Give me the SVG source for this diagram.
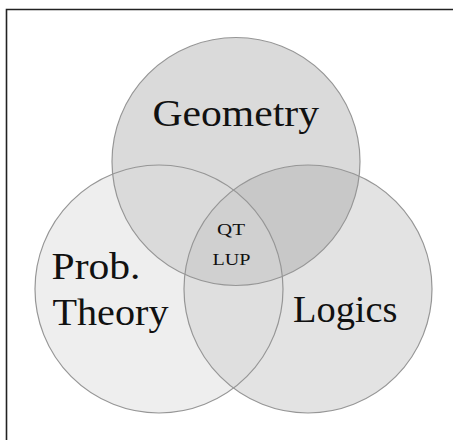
<svg xmlns="http://www.w3.org/2000/svg" width="453" height="440" viewBox="0 0 453 440">
<style>
.lbl{font-family:"Liberation Serif","Times New Roman",serif;fill:#111;}
.big{font-size:37px;}
.small{font-size:17px;}
.outline{fill:none;stroke:#969696;stroke-width:1.2;}
</style>
<rect x="0" y="0" width="453" height="440" fill="#fff"/>
<path d="M6.5,440 V9.5 H453" fill="none" stroke="#222" stroke-width="1.6"/>
<g id="geometry">
<circle cx="236" cy="161.5" r="124" fill="#000" fill-opacity="0.145"/>
<text class="lbl big" x="152.5" y="125.5" textLength="166.5" lengthAdjust="spacingAndGlyphs">Geometry</text>
</g>
<g id="logics">
<circle cx="308" cy="289" r="124" fill="#989898" fill-opacity="0.27"/>
<text class="lbl big" x="293" y="321.5" textLength="104.5" lengthAdjust="spacingAndGlyphs">Logics</text>
</g>
<g id="prob-theory">
<circle cx="159" cy="289" r="124" fill="#dbdbdb" fill-opacity="0.46"/>
<text class="lbl big" x="51.5" y="278.5" textLength="89" lengthAdjust="spacingAndGlyphs">Prob.</text>
<text class="lbl big" x="52.5" y="325" textLength="116" lengthAdjust="spacingAndGlyphs">Theory</text>
</g>
<g id="outlines">
<circle class="outline" cx="236" cy="161.5" r="124"/>
<circle class="outline" cx="308" cy="289" r="124"/>
<circle class="outline" cx="159" cy="289" r="124"/>
</g>
<g id="center">
<text class="lbl small" x="217" y="234.5" textLength="28" lengthAdjust="spacingAndGlyphs">QT</text>
<text class="lbl small" x="212.5" y="265.3" textLength="38" lengthAdjust="spacingAndGlyphs">LUP</text>
</g>
</svg>
